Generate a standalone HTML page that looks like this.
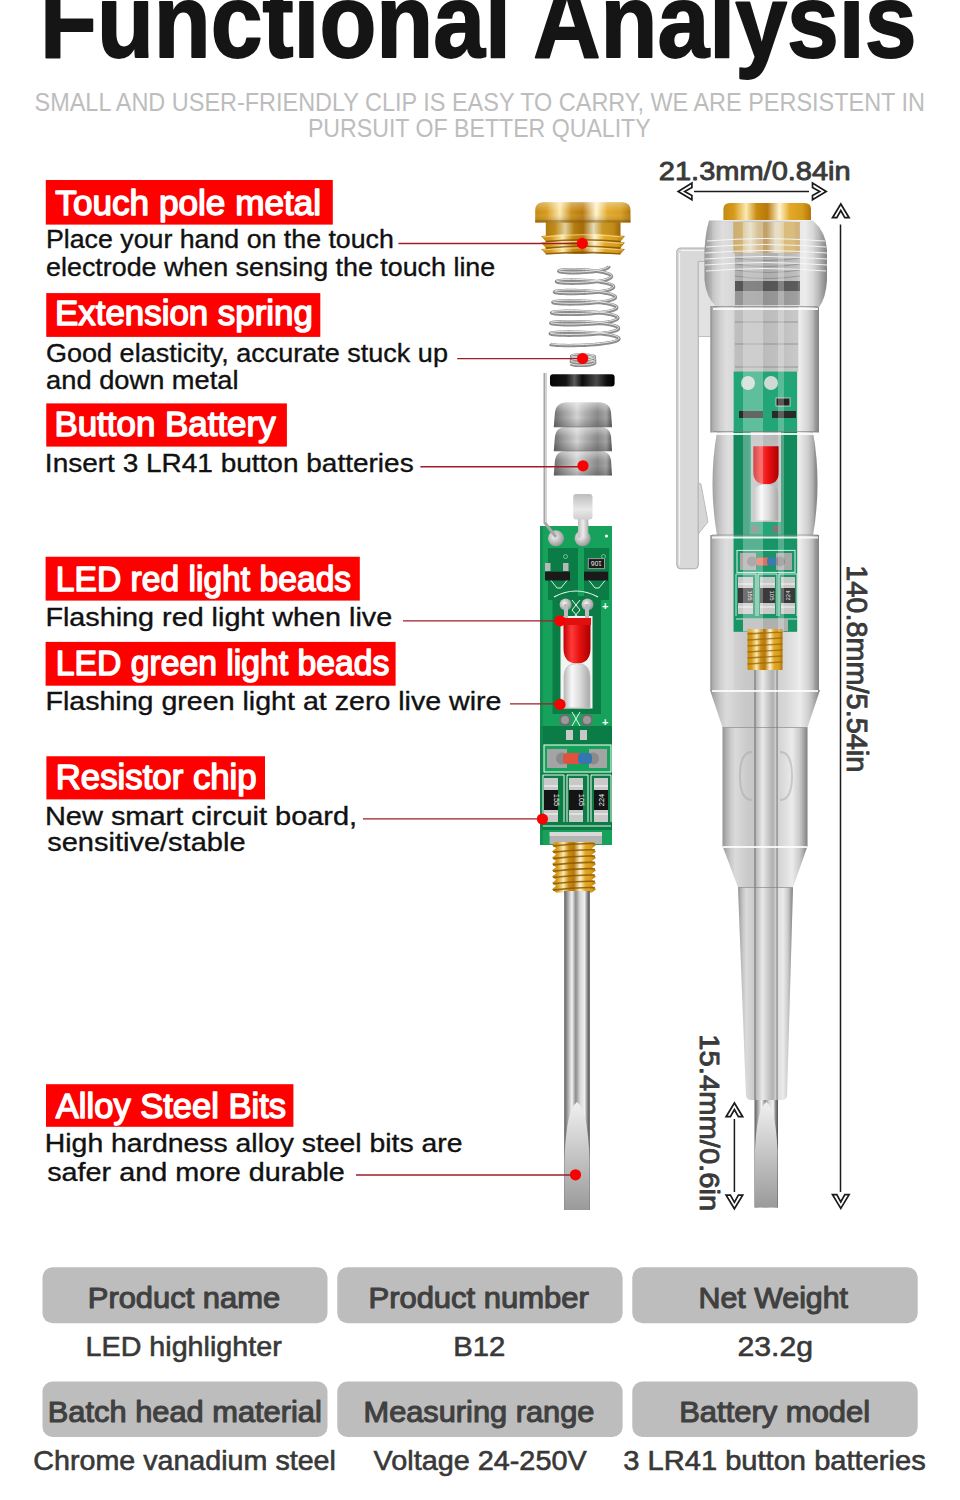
<!DOCTYPE html>
<html><head><meta charset="utf-8"><style>
html,body{margin:0;padding:0;background:#fff;}
body{width:960px;height:1500px;overflow:hidden;}
svg{display:block;}
</style></head><body>
<svg width="960" height="1500" viewBox="0 0 960 1500">
<defs>
  <linearGradient id="gold" x1="0" x2="1" y1="0" y2="0">
    <stop offset="0" stop-color="#c48a12"/>
    <stop offset="0.12" stop-color="#d89a1a"/>
    <stop offset="0.26" stop-color="#fbeab0"/>
    <stop offset="0.38" stop-color="#c98c12"/>
    <stop offset="0.5" stop-color="#b8780a"/>
    <stop offset="0.64" stop-color="#fff4d0"/>
    <stop offset="0.76" stop-color="#e2a826"/>
    <stop offset="0.9" stop-color="#d89c1c"/>
    <stop offset="1" stop-color="#b07408"/>
  </linearGradient>
  <linearGradient id="goldv" x1="0" x2="0" y1="0" y2="1">
    <stop offset="0" stop-color="#fff" stop-opacity="0.35"/>
    <stop offset="0.5" stop-color="#fff" stop-opacity="0"/>
    <stop offset="1" stop-color="#5a3a00" stop-opacity="0.35"/>
  </linearGradient>
  <linearGradient id="steel" x1="0" x2="1" y1="0" y2="0">
    <stop offset="0" stop-color="#5e5e5e"/>
    <stop offset="0.12" stop-color="#9a9a9a"/>
    <stop offset="0.3" stop-color="#f4f4f4"/>
    <stop offset="0.45" stop-color="#8c8c8c"/>
    <stop offset="0.62" stop-color="#d8d8d8"/>
    <stop offset="0.8" stop-color="#efefef"/>
    <stop offset="0.9" stop-color="#8a8a8a"/>
    <stop offset="1" stop-color="#4e4e4e"/>
  </linearGradient>
  <linearGradient id="tipg" x1="0" x2="0" y1="0" y2="1">
    <stop offset="0" stop-color="#f0f0f0"/>
    <stop offset="0.5" stop-color="#c4c4c4"/>
    <stop offset="1" stop-color="#9a9a9a"/>
  </linearGradient>
  <linearGradient id="batt" x1="0" x2="1" y1="0" y2="0">
    <stop offset="0" stop-color="#6e6e6e"/>
    <stop offset="0.15" stop-color="#9a9a9a"/>
    <stop offset="0.4" stop-color="#d4d4d4"/>
    <stop offset="0.55" stop-color="#b0b0b0"/>
    <stop offset="0.75" stop-color="#8a8a8a"/>
    <stop offset="0.9" stop-color="#a4a4a4"/>
    <stop offset="1" stop-color="#5e5e5e"/>
  </linearGradient>
  <linearGradient id="battv" x1="0" x2="0" y1="0" y2="1">
    <stop offset="0" stop-color="#fff" stop-opacity="0.45"/>
    <stop offset="0.3" stop-color="#fff" stop-opacity="0.1"/>
    <stop offset="0.6" stop-color="#000" stop-opacity="0"/>
    <stop offset="1" stop-color="#000" stop-opacity="0.2"/>
  </linearGradient>
  <linearGradient id="tabv" x1="0" x2="0" y1="0" y2="1">
    <stop offset="0" stop-color="#bdbdbd"/>
    <stop offset="0.6" stop-color="#e8e8e8"/>
    <stop offset="1" stop-color="#cfcfcf"/>
  </linearGradient>
  <linearGradient id="body" x1="0" x2="1" y1="0" y2="0">
    <stop offset="0" stop-color="#a4a4a4"/>
    <stop offset="0.05" stop-color="#bcbcbc"/>
    <stop offset="0.15" stop-color="#dadada"/>
    <stop offset="0.3" stop-color="#cacaca"/>
    <stop offset="0.45" stop-color="#c4c4c4"/>
    <stop offset="0.68" stop-color="#d6d6d6"/>
    <stop offset="0.82" stop-color="#ebebeb"/>
    <stop offset="0.93" stop-color="#c2c2c2"/>
    <stop offset="1" stop-color="#969696"/>
  </linearGradient>
  <linearGradient id="rod" x1="0" x2="1" y1="0" y2="0">
    <stop offset="0" stop-color="#505050"/>
    <stop offset="0.08" stop-color="#b8b8b8"/>
    <stop offset="0.35" stop-color="#f2f2f2"/>
    <stop offset="0.6" stop-color="#c8c8c8"/>
    <stop offset="0.8" stop-color="#a8a8a8"/>
    <stop offset="0.93" stop-color="#d0d0d0"/>
    <stop offset="1" stop-color="#4a4a4a"/>
  </linearGradient>
  <linearGradient id="bodyedge" x1="0" x2="1" y1="0" y2="0">
    <stop offset="0" stop-color="#000" stop-opacity="0.1"/>
    <stop offset="0.1" stop-color="#000" stop-opacity="0"/>
    <stop offset="0.9" stop-color="#000" stop-opacity="0"/>
    <stop offset="1" stop-color="#000" stop-opacity="0.14"/>
  </linearGradient>
  <linearGradient id="clipg" x1="0" x2="1" y1="0" y2="0">
    <stop offset="0" stop-color="#9c9c9c"/>
    <stop offset="0.25" stop-color="#e6e6e6"/>
    <stop offset="0.7" stop-color="#d2d2d2"/>
    <stop offset="1" stop-color="#b4b4b4"/>
  </linearGradient>
  <linearGradient id="washer" x1="0" x2="1" y1="0" y2="0">
    <stop offset="0" stop-color="#050505"/>
    <stop offset="0.25" stop-color="#141414"/>
    <stop offset="0.38" stop-color="#5a5a5a"/>
    <stop offset="0.5" stop-color="#0c0c0c"/>
    <stop offset="0.72" stop-color="#4a4a4a"/>
    <stop offset="0.88" stop-color="#0e0e0e"/>
    <stop offset="1" stop-color="#000"/>
  </linearGradient>
  <linearGradient id="redled" x1="0" x2="1" y1="0" y2="0">
    <stop offset="0" stop-color="#c40000"/>
    <stop offset="0.3" stop-color="#ff3a3a"/>
    <stop offset="0.6" stop-color="#e81010"/>
    <stop offset="1" stop-color="#a80000"/>
  </linearGradient>
  <linearGradient id="clearled" x1="0" x2="1" y1="0" y2="0">
    <stop offset="0" stop-color="#b8b8b8"/>
    <stop offset="0.3" stop-color="#f8f8f8"/>
    <stop offset="0.6" stop-color="#dcdcdc"/>
    <stop offset="1" stop-color="#a8a8a8"/>
  </linearGradient>
  <radialGradient id="pad" cx="0.4" cy="0.4" r="0.6">
    <stop offset="0" stop-color="#f4f4f4"/>
    <stop offset="1" stop-color="#9a9a9a"/>
  </radialGradient>
  <linearGradient id="tab" x1="0" x2="1" y1="0" y2="0">
    <stop offset="0" stop-color="#bdbdbd"/>
    <stop offset="0.5" stop-color="#ececec"/>
    <stop offset="1" stop-color="#b0b0b0"/>
  </linearGradient>
</defs>
<g id="exploded">
  <!-- brass cap -->
  <rect x="545.8" y="221" width="74.7" height="33" fill="url(#gold)"/>
  <rect x="545.8" y="221" width="74.7" height="33" fill="#000" opacity="0.1"/>
  <g>
    <path d="M541,236 Q583,231.5 625,236 L620.5,241.5 Q583,238 545.8,241.5 Z" fill="url(#gold)"/>
    <path d="M541,242.5 Q583,238 625,242.5 L620.5,248 Q583,244.5 545.8,248 Z" fill="url(#gold)"/>
    <path d="M541,249 Q583,244.5 625,249 L620.5,254 Q583,250.5 545.8,254 Z" fill="url(#gold)"/>
  </g>
  <g stroke="#7a4c02" stroke-width="1.3" fill="none" opacity="0.75">
    <path d="M545.8,241.5 Q583,238 620.5,241.5"/>
    <path d="M545.8,248 Q583,244.5 620.5,248"/>
    <path d="M545.8,254 Q583,250.5 620.5,254"/>
  </g>
  <g stroke="#fff3c0" stroke-width="1" fill="none" opacity="0.6">
    <path d="M543,237 Q583,232.5 623,237"/>
    <path d="M543,243.5 Q583,239 623,243.5"/>
    <path d="M543,250 Q583,245.5 623,250"/>
  </g>
  <path d="M535.2,222.5 L535.2,210 Q535.2,203 543,202.2 L622.5,202.2 Q630.5,203 630.5,210 L630.5,222.5 Z" fill="url(#gold)"/>
  <path d="M535.2,222.5 L535.2,210 Q535.2,203 543,202.2 L622.5,202.2 Q630.5,203 630.5,210 L630.5,222.5 Z" fill="url(#goldv)"/>
  <rect x="535.2" y="220" width="95.3" height="2.5" fill="#8a5a05" opacity="0.35"/>
  <!-- spring -->
  <g fill="none" stroke-linejoin="round">
    <path d="M609.0,266.0 L608.8,266.9 L607.9,267.7 L606.5,268.5 L604.5,269.3 L602.1,270.0 L599.1,270.6 L595.8,271.2 L592.2,271.7 L588.4,272.1 L584.5,272.4 L580.6,272.6 L576.7,272.7 L573.0,272.8 L569.6,272.7 L566.5,272.6 L563.8,272.4 L561.7,272.1 L560.1,271.9 L559.1,271.5 L558.7,271.2 L559.0,270.9 L559.9,270.5 L561.4,270.3 L563.4,270.0 L566.0,269.8 L569.1,269.7 L572.6,269.6 L576.4,269.7 L580.4,269.8 L584.5,270.0 L588.6,270.3 L592.7,270.7 L596.6,271.2 L600.2,271.8 L603.4,272.4 L606.1,273.1 L608.4,273.9 L610.1,274.7 L611.1,275.5 L611.5,276.4 L611.2,277.3 L610.3,278.1 L608.7,278.9 L606.5,279.7 L603.8,280.4 L600.6,281.0 L596.9,281.6 L593.0,282.1 L588.8,282.5 L584.5,282.8 L580.2,283.0 L576.0,283.1 L571.9,283.2 L568.2,283.1 L564.8,283.0 L561.9,282.8 L559.6,282.5 L557.9,282.3 L556.8,281.9 L556.4,281.6 L556.7,281.3 L557.7,280.9 L559.3,280.7 L561.6,280.4 L564.4,280.2 L567.8,280.1 L571.6,280.0 L575.7,280.1 L580.0,280.2 L584.5,280.4 L589.0,280.7 L593.4,281.1 L597.6,281.6 L601.4,282.2 L604.9,282.8 L607.9,283.5 L610.3,284.3 L612.1,285.1 L613.2,285.9 L613.6,286.8 L613.3,287.7 L612.3,288.5 L610.6,289.3 L608.2,290.1 L605.3,290.8 L601.8,291.4 L597.9,292.0 L593.6,292.5 L589.1,292.9 L584.5,293.2 L579.9,293.4 L575.3,293.5 L571.0,293.6 L567.0,293.5 L563.4,293.4 L560.3,293.2 L557.8,292.9 L556.0,292.7 L554.9,292.3 L554.4,292.0 L554.8,291.7 L555.8,291.3 L557.6,291.1 L560.0,290.8 L563.1,290.6 L566.7,290.5 L570.7,290.4 L575.1,290.5 L579.7,290.6 L584.5,290.8 L589.3,291.1 L593.9,291.5 L598.4,292.0 L602.5,292.6 L606.2,293.2 L609.4,293.9 L611.9,294.7 L613.8,295.5 L615.0,296.3 L615.4,297.2 L615.1,298.1 L614.0,298.9 L612.1,299.7 L609.6,300.5 L606.5,301.2 L602.8,301.8 L598.7,302.4 L594.1,302.9 L589.4,303.3 L584.5,303.6 L579.6,303.8 L574.8,303.9 L570.2,304.0 L566.0,303.9 L562.2,303.8 L559.0,303.6 L556.4,303.3 L554.5,303.1 L553.3,302.7 L552.8,302.4 L553.2,302.1 L554.3,301.7 L556.2,301.5 L558.8,301.2 L562.0,301.0 L565.8,300.9 L570.0,300.8 L574.6,300.9 L579.5,301.0 L584.5,301.2 L589.5,301.5 L594.4,301.9 L599.1,302.4 L603.4,303.0 L607.2,303.6 L610.5,304.3 L613.2,305.1 L615.2,305.9 L616.4,306.7 L616.8,307.6 L616.5,308.5 L615.3,309.3 L613.4,310.1 L610.7,310.9 L607.5,311.6 L603.6,312.2 L599.3,312.8 L594.6,313.3 L589.6,313.7 L584.5,314.0 L579.4,314.2 L574.4,314.3 L569.7,314.4 L565.3,314.3 L561.3,314.2 L558.0,314.0 L555.3,313.7 L553.3,313.5 L552.0,313.1 L551.6,312.8 L552.0,312.5 L553.2,312.1 L555.1,311.9 L557.8,311.6 L561.1,311.4 L565.1,311.3 L569.5,311.2 L574.3,311.3 L579.3,311.4 L584.5,311.6 L589.7,311.9 L594.8,312.3 L599.6,312.8 L604.0,313.4 L608.0,314.0 L611.4,314.7 L614.2,315.5 L616.2,316.3 L617.5,317.1 L617.9,318.0 L617.5,318.9 L616.3,319.7 L614.3,320.5 L611.6,321.3 L608.2,322.0 L604.2,322.6 L599.7,323.2 L594.9,323.7 L589.8,324.1 L584.5,324.4 L579.2,324.6 L574.1,324.7 L569.2,324.8 L564.7,324.7 L560.7,324.6 L557.2,324.4 L554.4,324.1 L552.4,323.9 L551.1,323.5 L550.7,323.2 L551.1,322.9 L552.3,322.5 L554.3,322.3 L557.1,322.0 L560.5,321.8 L564.6,321.7 L569.1,321.6 L574.0,321.7 L579.2,321.8 L584.5,322.0 L589.8,322.3 L595.0,322.7 L599.9,323.2 L604.5,323.8 L608.6,324.4 L612.0,325.1 L614.8,325.9 L616.9,326.7 L618.2,327.5 L618.6,328.4 L618.2,329.3 L617.0,330.1 L614.9,330.9 L612.1,331.7 L608.7,332.4 L604.6,333.0 L600.0,333.6 L595.1,334.1 L589.9,334.5 L584.5,334.8 L579.1,335.0 L573.9,335.1 L568.9,335.2 L564.4,335.1 L560.3,335.0 L556.8,334.8 L553.9,334.5 L551.9,334.3 L550.6,333.9 L550.2,333.6 L550.6,333.3 L551.8,332.9 L553.9,332.7 L556.7,332.4 L560.2,332.2 L564.3,332.1 L568.9,332.0 L573.9,332.1 L579.1,332.2 L584.5,332.4 L589.9,332.7 L595.1,333.1 L600.1,333.6 L604.7,334.2 L608.8,334.8 L612.4,335.5 L615.2,336.3 L617.3,337.1 L618.5,337.9 L619.0,338.8 L618.5,339.7 L617.3,340.5 L615.2,341.3 L612.4,342.1 L608.9,342.8 L604.8,343.4 L600.2,344.0 L595.2,344.5 L589.9,344.9 L584.5,345.2 L579.1,345.4 L573.8,345.5 L568.8,345.6 L564.2,345.5 L560.1,345.4 L556.6,345.2 L553.8,344.9 L551.7,344.7 L550.4,344.3 L550.0,344.0" stroke="#8c8c8c" stroke-width="3.4"/>
    <path d="M609.0,266.0 L608.8,266.9 L607.9,267.7 L606.5,268.5 L604.5,269.3 L602.1,270.0 L599.1,270.6 L595.8,271.2 L592.2,271.7 L588.4,272.1 L584.5,272.4 L580.6,272.6 L576.7,272.7 L573.0,272.8 L569.6,272.7 L566.5,272.6 L563.8,272.4 L561.7,272.1 L560.1,271.9 L559.1,271.5 L558.7,271.2 L559.0,270.9 L559.9,270.5 L561.4,270.3 L563.4,270.0 L566.0,269.8 L569.1,269.7 L572.6,269.6 L576.4,269.7 L580.4,269.8 L584.5,270.0 L588.6,270.3 L592.7,270.7 L596.6,271.2 L600.2,271.8 L603.4,272.4 L606.1,273.1 L608.4,273.9 L610.1,274.7 L611.1,275.5 L611.5,276.4 L611.2,277.3 L610.3,278.1 L608.7,278.9 L606.5,279.7 L603.8,280.4 L600.6,281.0 L596.9,281.6 L593.0,282.1 L588.8,282.5 L584.5,282.8 L580.2,283.0 L576.0,283.1 L571.9,283.2 L568.2,283.1 L564.8,283.0 L561.9,282.8 L559.6,282.5 L557.9,282.3 L556.8,281.9 L556.4,281.6 L556.7,281.3 L557.7,280.9 L559.3,280.7 L561.6,280.4 L564.4,280.2 L567.8,280.1 L571.6,280.0 L575.7,280.1 L580.0,280.2 L584.5,280.4 L589.0,280.7 L593.4,281.1 L597.6,281.6 L601.4,282.2 L604.9,282.8 L607.9,283.5 L610.3,284.3 L612.1,285.1 L613.2,285.9 L613.6,286.8 L613.3,287.7 L612.3,288.5 L610.6,289.3 L608.2,290.1 L605.3,290.8 L601.8,291.4 L597.9,292.0 L593.6,292.5 L589.1,292.9 L584.5,293.2 L579.9,293.4 L575.3,293.5 L571.0,293.6 L567.0,293.5 L563.4,293.4 L560.3,293.2 L557.8,292.9 L556.0,292.7 L554.9,292.3 L554.4,292.0 L554.8,291.7 L555.8,291.3 L557.6,291.1 L560.0,290.8 L563.1,290.6 L566.7,290.5 L570.7,290.4 L575.1,290.5 L579.7,290.6 L584.5,290.8 L589.3,291.1 L593.9,291.5 L598.4,292.0 L602.5,292.6 L606.2,293.2 L609.4,293.9 L611.9,294.7 L613.8,295.5 L615.0,296.3 L615.4,297.2 L615.1,298.1 L614.0,298.9 L612.1,299.7 L609.6,300.5 L606.5,301.2 L602.8,301.8 L598.7,302.4 L594.1,302.9 L589.4,303.3 L584.5,303.6 L579.6,303.8 L574.8,303.9 L570.2,304.0 L566.0,303.9 L562.2,303.8 L559.0,303.6 L556.4,303.3 L554.5,303.1 L553.3,302.7 L552.8,302.4 L553.2,302.1 L554.3,301.7 L556.2,301.5 L558.8,301.2 L562.0,301.0 L565.8,300.9 L570.0,300.8 L574.6,300.9 L579.5,301.0 L584.5,301.2 L589.5,301.5 L594.4,301.9 L599.1,302.4 L603.4,303.0 L607.2,303.6 L610.5,304.3 L613.2,305.1 L615.2,305.9 L616.4,306.7 L616.8,307.6 L616.5,308.5 L615.3,309.3 L613.4,310.1 L610.7,310.9 L607.5,311.6 L603.6,312.2 L599.3,312.8 L594.6,313.3 L589.6,313.7 L584.5,314.0 L579.4,314.2 L574.4,314.3 L569.7,314.4 L565.3,314.3 L561.3,314.2 L558.0,314.0 L555.3,313.7 L553.3,313.5 L552.0,313.1 L551.6,312.8 L552.0,312.5 L553.2,312.1 L555.1,311.9 L557.8,311.6 L561.1,311.4 L565.1,311.3 L569.5,311.2 L574.3,311.3 L579.3,311.4 L584.5,311.6 L589.7,311.9 L594.8,312.3 L599.6,312.8 L604.0,313.4 L608.0,314.0 L611.4,314.7 L614.2,315.5 L616.2,316.3 L617.5,317.1 L617.9,318.0 L617.5,318.9 L616.3,319.7 L614.3,320.5 L611.6,321.3 L608.2,322.0 L604.2,322.6 L599.7,323.2 L594.9,323.7 L589.8,324.1 L584.5,324.4 L579.2,324.6 L574.1,324.7 L569.2,324.8 L564.7,324.7 L560.7,324.6 L557.2,324.4 L554.4,324.1 L552.4,323.9 L551.1,323.5 L550.7,323.2 L551.1,322.9 L552.3,322.5 L554.3,322.3 L557.1,322.0 L560.5,321.8 L564.6,321.7 L569.1,321.6 L574.0,321.7 L579.2,321.8 L584.5,322.0 L589.8,322.3 L595.0,322.7 L599.9,323.2 L604.5,323.8 L608.6,324.4 L612.0,325.1 L614.8,325.9 L616.9,326.7 L618.2,327.5 L618.6,328.4 L618.2,329.3 L617.0,330.1 L614.9,330.9 L612.1,331.7 L608.7,332.4 L604.6,333.0 L600.0,333.6 L595.1,334.1 L589.9,334.5 L584.5,334.8 L579.1,335.0 L573.9,335.1 L568.9,335.2 L564.4,335.1 L560.3,335.0 L556.8,334.8 L553.9,334.5 L551.9,334.3 L550.6,333.9 L550.2,333.6 L550.6,333.3 L551.8,332.9 L553.9,332.7 L556.7,332.4 L560.2,332.2 L564.3,332.1 L568.9,332.0 L573.9,332.1 L579.1,332.2 L584.5,332.4 L589.9,332.7 L595.1,333.1 L600.1,333.6 L604.7,334.2 L608.8,334.8 L612.4,335.5 L615.2,336.3 L617.3,337.1 L618.5,337.9 L619.0,338.8 L618.5,339.7 L617.3,340.5 L615.2,341.3 L612.4,342.1 L608.9,342.8 L604.8,343.4 L600.2,344.0 L595.2,344.5 L589.9,344.9 L584.5,345.2 L579.1,345.4 L573.8,345.5 L568.8,345.6 L564.2,345.5 L560.1,345.4 L556.6,345.2 L553.8,344.9 L551.7,344.7 L550.4,344.3 L550.0,344.0" stroke="#e6e6e6" stroke-width="1" transform="translate(0,-0.7)"/>
    <path d="M594.5,355.0 L594.3,355.5 L593.8,355.9 L592.8,356.4 L591.6,356.8 L590.0,357.1 L588.2,357.4 L586.3,357.6 L584.2,357.8 L582.1,357.9 L580.0,357.9 L578.0,357.8 L576.2,357.7 L574.6,357.5 L573.3,357.2 L572.3,357.0 L571.6,356.7 L571.4,356.3 L571.5,356.0 L572.0,355.7 L572.9,355.4 L574.1,355.1 L575.7,354.9 L577.4,354.8 L579.4,354.7 L581.5,354.7 L583.6,354.8 L585.7,354.9 L587.8,355.1 L589.6,355.4 L591.3,355.7 L592.7,356.1 L593.7,356.5 L594.4,357.0 L594.7,357.4 L594.6,357.9 L594.2,358.4 L593.3,358.8 L592.1,359.2 L590.6,359.6 L588.9,359.9 L586.9,360.1 L584.8,360.3 L582.7,360.4 L580.5,360.5 L578.5,360.4 L576.6,360.3 L574.9,360.1 L573.4,359.9 L572.3,359.6 L571.6,359.3 L571.2,359.0 L571.2,358.7 L571.6,358.4 L572.4,358.1 L573.6,357.8 L575.1,357.6 L576.8,357.4 L578.7,357.3 L580.8,357.3 L583.0,357.3 L585.2,357.4 L587.3,357.6 L589.2,357.8 L591.0,358.2 L592.4,358.5 L593.6,359.0 L594.4,359.4 L594.8,359.9 L594.9,360.3 L594.5,360.8 L593.8,361.3 L592.6,361.7 L591.2,362.1 L589.5,362.4 L587.6,362.7 L585.5,362.9 L583.3,363.0 L581.1,363.0 L579.0,363.0 L577.0,362.9 L575.2,362.7 L573.7,362.5 L572.5,362.3 L571.6,362.0 L571.1,361.7 L571.1,361.3 L571.4,361.0 L572.1,360.7 L573.1,360.4 L574.5,360.2 L576.2,360.0 L578.1,359.9 L580.2,359.8 L582.4,359.9 L584.6,359.9 L586.7,360.1 L588.7,360.3 L590.5,360.6 L592.1,361.0 L593.4,361.4 L594.3,361.8 L594.8,362.3 L595.0,362.8 L594.7,363.3 L594.1,363.7 L593.1,364.1 L591.7,364.5 L590.1,364.9 L588.2,365.2 L586.1,365.4 L583.9,365.5 L581.7,365.6 L579.6,365.6 L577.6,365.5 L575.7,365.4 L574.1,365.2 L572.8,364.9 L571.8,364.6 L571.2,364.3 L571.0,364.0" stroke="#8c8c8c" stroke-width="3"/>
    <path d="M594.5,355.0 L594.3,355.5 L593.8,355.9 L592.8,356.4 L591.6,356.8 L590.0,357.1 L588.2,357.4 L586.3,357.6 L584.2,357.8 L582.1,357.9 L580.0,357.9 L578.0,357.8 L576.2,357.7 L574.6,357.5 L573.3,357.2 L572.3,357.0 L571.6,356.7 L571.4,356.3 L571.5,356.0 L572.0,355.7 L572.9,355.4 L574.1,355.1 L575.7,354.9 L577.4,354.8 L579.4,354.7 L581.5,354.7 L583.6,354.8 L585.7,354.9 L587.8,355.1 L589.6,355.4 L591.3,355.7 L592.7,356.1 L593.7,356.5 L594.4,357.0 L594.7,357.4 L594.6,357.9 L594.2,358.4 L593.3,358.8 L592.1,359.2 L590.6,359.6 L588.9,359.9 L586.9,360.1 L584.8,360.3 L582.7,360.4 L580.5,360.5 L578.5,360.4 L576.6,360.3 L574.9,360.1 L573.4,359.9 L572.3,359.6 L571.6,359.3 L571.2,359.0 L571.2,358.7 L571.6,358.4 L572.4,358.1 L573.6,357.8 L575.1,357.6 L576.8,357.4 L578.7,357.3 L580.8,357.3 L583.0,357.3 L585.2,357.4 L587.3,357.6 L589.2,357.8 L591.0,358.2 L592.4,358.5 L593.6,359.0 L594.4,359.4 L594.8,359.9 L594.9,360.3 L594.5,360.8 L593.8,361.3 L592.6,361.7 L591.2,362.1 L589.5,362.4 L587.6,362.7 L585.5,362.9 L583.3,363.0 L581.1,363.0 L579.0,363.0 L577.0,362.9 L575.2,362.7 L573.7,362.5 L572.5,362.3 L571.6,362.0 L571.1,361.7 L571.1,361.3 L571.4,361.0 L572.1,360.7 L573.1,360.4 L574.5,360.2 L576.2,360.0 L578.1,359.9 L580.2,359.8 L582.4,359.9 L584.6,359.9 L586.7,360.1 L588.7,360.3 L590.5,360.6 L592.1,361.0 L593.4,361.4 L594.3,361.8 L594.8,362.3 L595.0,362.8 L594.7,363.3 L594.1,363.7 L593.1,364.1 L591.7,364.5 L590.1,364.9 L588.2,365.2 L586.1,365.4 L583.9,365.5 L581.7,365.6 L579.6,365.6 L577.6,365.5 L575.7,365.4 L574.1,365.2 L572.8,364.9 L571.8,364.6 L571.2,364.3 L571.0,364.0" stroke="#e6e6e6" stroke-width="0.9" transform="translate(0,-0.6)"/>
  </g>
  <!-- washer -->
  <rect x="550" y="374.2" width="64.6" height="12.2" rx="3" fill="url(#washer)"/>
  <!-- batteries -->
  <g>
    <path d="M553.75,427 L555,412 Q556,403 566,402.5 L600,402.5 Q610,403 611,412 L612,427 Z" fill="url(#batt)"/>
    <path d="M553.75,427 L555,412 Q556,403 566,402.5 L600,402.5 Q610,403 611,412 L612,427 Z" fill="url(#battv)"/>
    <path d="M553.75,451 L555,436 Q556,427.5 566,427 L600,427 Q610,427.5 611,436 L612,451 Z" fill="url(#batt)"/>
    <path d="M553.75,451 L555,436 Q556,427.5 566,427 L600,427 Q610,427.5 611,436 L612,451 Z" fill="url(#battv)"/>
    <path d="M553.75,475.5 L555,460 Q556,451.5 566,451 L600,451 Q610,451.5 611,460 L612,475.5 Z" fill="url(#batt)"/>
    <path d="M553.75,475.5 L555,460 Q556,451.5 566,451 L600,451 Q610,451.5 611,460 L612,475.5 Z" fill="url(#battv)"/>
    <g stroke="#777" stroke-width="1" opacity="0.6">
      <line x1="554" y1="427" x2="612" y2="427"/>
      <line x1="554" y1="451" x2="612" y2="451"/>
    </g>
  </g>
  <!-- wire -->
  
  <!-- metal tab -->
  <rect x="578" y="515" width="10.3" height="24" fill="url(#tab)"/>
  <rect x="573.2" y="494" width="19.3" height="25.6" rx="3" fill="url(#tabv)"/>
  <!-- PCB -->
  <rect x="540" y="526" width="72" height="319" fill="#17a25c"/>
  <g fill="#0c7c47">
    <rect x="548" y="548" width="30" height="52"/>
    <rect x="584" y="548" width="25" height="52"/>
    <rect x="552.5" y="596" width="48.5" height="118"/>
    <rect x="540" y="726" width="72" height="14"/>
    <rect x="540" y="740" width="72" height="90"/>
  </g>
  <rect x="540" y="526" width="3" height="319" fill="#0f8a4e" opacity="0.7"/>
  <rect x="560.5" y="616" width="32" height="92.5" fill="#f2f4f2"/>
  <!-- pads -->
  <circle cx="556" cy="538.3" r="8" fill="url(#pad)"/>
  <path d="M545,373 L545,523 L556,537" fill="none" stroke="#a6a6a6" stroke-width="3"/>
  <path d="M545.6,373 L545.6,522" fill="none" stroke="#e6e6e6" stroke-width="0.8"/>
  <circle cx="582.6" cy="538.3" r="8" fill="url(#pad)"/>
  <rect x="578" y="524" width="10.3" height="14" fill="url(#tab)"/>
  <circle cx="606.5" cy="536" r="1.6" fill="#fff"/>
  <!-- chips -->
  <circle cx="565.5" cy="556.5" r="2" fill="none" stroke="#7fd39c" stroke-width="0.8"/>
  <circle cx="603.5" cy="556.5" r="2" fill="none" stroke="#7fd39c" stroke-width="0.8"/>
  <rect x="545" y="563" width="5.5" height="8" fill="#b8b8b8"/>
  <rect x="563" y="563" width="5.5" height="8" fill="#b8b8b8"/>
  <rect x="545" y="571.7" width="25" height="8.8" fill="#1a1a1a"/>
  <path d="M551,580.5 L557,588 L561,588 L567,580.5" fill="none" stroke="#d8f0de" stroke-width="1"/>
  <rect x="588.3" y="558.6" width="16.2" height="10" fill="#1a1a1a" stroke="#9a9a9a" stroke-width="1"/>
  <text x="596.4" y="566.5" font-family="Liberation Sans, sans-serif" font-size="6.5" fill="#eee" text-anchor="middle" transform="rotate(180 596.4 563.6)">106</text>
  <rect x="584" y="571.7" width="24" height="8.8" fill="#1a1a1a"/>
  <path d="M589,580.5 L595,588 L599,588 L605,580.5" fill="none" stroke="#d8f0de" stroke-width="1"/>
  <!-- LED leads -->
  <path d="M554,597 Q576,585 598,597" fill="none" stroke="#e8f8ec" stroke-width="1.2"/>
  <circle cx="565.6" cy="604.5" r="6" fill="url(#pad)"/>
  <circle cx="587.5" cy="604.5" r="6" fill="url(#pad)"/>
  <rect x="564" y="604" width="4" height="14" fill="#bdbdbd"/>
  <rect x="585" y="604" width="4" height="14" fill="#bdbdbd"/>
  <path d="M572,600 L580,610 L574,617 M580,600 L572,610 L578,617" fill="none" stroke="#eafaee" stroke-width="1"/>
  <circle cx="565" cy="720" r="6" fill="#6e6e6e"/>
  <circle cx="565" cy="720" r="4" fill="#9a9a9a"/>
  <circle cx="587" cy="720" r="6" fill="#6e6e6e"/>
  <circle cx="587" cy="720" r="4" fill="#9a9a9a"/>
  <path d="M572,712 L580,726 M580,712 L572,726" fill="none" stroke="#eafaee" stroke-width="1"/>
  <!-- LEDs -->
  <path d="M563.5,624 L590.5,624 L590.5,648 Q590.5,663.5 577,663.5 Q563.5,663.5 563.5,648 Z" fill="url(#redled)"/>
  <rect x="561" y="618" width="30" height="7" fill="#e01010"/>
  <path d="M564,708 L590,708 L590,677 Q590,663.5 577,663.5 Q564,663.5 564,677 Z" fill="url(#clearled)"/>
  <path d="M564,708 L590,708 L590,677 Q590,663.5 577,663.5 Q564,663.5 564,677 Z" fill="none" stroke="#bdbdbd" stroke-width="0.8"/>
  <g fill="#fff" font-family="Liberation Sans, sans-serif" font-size="11" font-weight="bold">
    <text x="602" y="610">+</text>
    <text x="602" y="726">+</text>
  </g>
  <!-- pads below LED -->
  <rect x="566" y="730" width="7" height="10" fill="#c8c8c8"/>
  <rect x="580" y="730" width="7" height="10" fill="#c8c8c8"/>
  <!-- diode -->
  <rect x="544" y="745" width="67" height="27" fill="#17a25c" stroke="#e8f8ec" stroke-width="1.1"/>
  <rect x="547" y="749" width="20" height="19" fill="#a4a4a4"/>
  <rect x="589" y="749" width="18" height="19" fill="#a4a4a4"/>
  <circle cx="562" cy="758.5" r="6" fill="#8a8a8a"/>
  <circle cx="593" cy="758.5" r="6" fill="#8a8a8a"/>
  <rect x="563" y="753" width="20" height="11" rx="4" fill="#e2503e"/>
  <rect x="578" y="753" width="14" height="11" rx="4" fill="#3576b0"/>
  <!-- resistors -->
  <g fill="none" stroke="#e8f8ec" stroke-width="1">
    <path d="M543,822 L543,775 L564,775 L564,822"/>
    <path d="M567,822 L567,775 L588,775 L588,822"/>
    <path d="M591,822 L591,775 L611,775 L611,822"/>
    <line x1="543" y1="826" x2="611" y2="826"/>
  </g>
  <g>
    <rect x="544" y="778" width="14" height="44" fill="#c9c9c9"/>
    <rect x="544" y="790" width="14" height="20" fill="#141414"/>
    <rect x="569" y="778" width="14" height="44" fill="#c9c9c9"/>
    <rect x="569" y="790" width="14" height="20" fill="#141414"/>
    <rect x="594" y="778" width="14" height="44" fill="#c9c9c9"/>
    <rect x="594" y="790" width="14" height="20" fill="#141414"/>
    <g stroke="#f2f2f2" stroke-width="1.2">
      <line x1="544" y1="786" x2="558" y2="786"/><line x1="544" y1="814" x2="558" y2="814"/>
      <line x1="569" y1="786" x2="583" y2="786"/><line x1="569" y1="814" x2="583" y2="814"/>
      <line x1="594" y1="786" x2="608" y2="786"/><line x1="594" y1="814" x2="608" y2="814"/>
    </g>
    <g font-family="Liberation Sans, sans-serif" font-size="7.5" fill="#f0f0f0" text-anchor="middle">
      <text transform="translate(553.5,800) rotate(90)" y="0">155</text>
      <text transform="translate(578.5,800) rotate(90)" y="0">105</text>
      <text transform="translate(603.5,800) rotate(-90)" y="0">224</text>
    </g>
  </g>
  <!-- connector block -->
  <rect x="549.6" y="832" width="52.4" height="12" fill="#b4b4b4"/>
  <rect x="549.6" y="832" width="52.4" height="4" fill="#d8d8d8"/>
  <!-- brass screw -->
  <path d="M556,842 L592,842 L596,845.1 L592,848.3 L596,851.4 L592,854.6 L596,857.7 L592,860.9 L596,864.0 L592,867.2 L596,870.3 L592,873.5 L596,876.6 L592,879.8 L596,882.9 L592,886.1 L596,889.2 L592,892.4 L556,892.4 L552,889.2 L556,886.1 L552,882.9 L556,879.8 L552,876.6 L556,873.5 L552,870.3 L556,867.2 L552,864.0 L556,860.9 L552,857.7 L556,854.6 L552,851.4 L556,848.3 L552,845.1 L556,842.0 Z" fill="url(#gold)"/>
  <g stroke="#8a5a05" stroke-width="1.6" fill="none" opacity="0.85"><path d="M553,846.0 Q574,843.0 595,843.5" /><path d="M553,852.3 Q574,849.3 595,849.8" /><path d="M553,858.6 Q574,855.6 595,856.1" /><path d="M553,864.9 Q574,861.9 595,862.4" /><path d="M553,871.2 Q574,868.2 595,868.7" /><path d="M553,877.5 Q574,874.5 595,875.0" /><path d="M553,883.8 Q574,880.8 595,881.3" /><path d="M553,890.1 Q574,887.1 595,887.6" /></g>
  <!-- shaft -->
  <rect x="564.2" y="891" width="25.6" height="319" fill="url(#steel)"/>
  <path d="M564.5,1210 L564.5,1160 Q566,1110 577,1102 Q588,1110 589.5,1160 L589.5,1210 Z" fill="url(#tipg)"/>
</g>
<g id="assembled">
  <!-- clip -->
  <path d="M676.8,252 Q676.8,248 681,248 L716,248 L716,261.5 L698.3,261.5 L698.3,565 Q698.3,568.8 694.5,568.8 L680.6,568.8 Q676.8,568.8 676.8,565 Z" fill="#d9d9d9" stroke="#a4a4a4" stroke-width="0.9"/>
  <path d="M679.5,253 L679.5,565" stroke="#f4f4f4" stroke-width="1.2"/>
  <path d="M681,250.5 L714,250.5" stroke="#f4f4f4" stroke-width="1"/>
  <rect x="698.3" y="261.5" width="17.7" height="75" fill="#e2e2e2" stroke="#b4b4b4" stroke-width="0.8"/>
  <path d="M698.3,482.6 L701,484 L708,522 L698.3,534 Z" fill="#d6d6d6" stroke="#b0b0b0" stroke-width="0.8"/>
  <!-- bit -->
  <rect x="754.5" y="1098" width="23.5" height="109.5" fill="url(#steel)"/>
  <path d="M755,1207.5 L755,1150 Q757,1108 766.3,1102 Q775.5,1108 777.5,1150 L777.5,1207.5 Z" fill="url(#tipg)"/>
  <!-- tip body (taper) -->
  <path d="M738,887.5 L793,887.5 L787,1096 Q786,1100 782,1100 L751,1100 Q747,1100 746,1096 Z" fill="url(#body)"/>
  <path d="M738,887.5 L793,887.5 L787,1096 Q786,1100 782,1100 L751,1100 Q747,1100 746,1096 Z" fill="url(#bodyedge)"/>
  <!-- cone2 -->
  <path d="M722.5,846 L807.5,846 L793,887.5 L738,887.5 Z" fill="url(#body)"/>
  <path d="M722.5,846 L807.5,846 L793,887.5 L738,887.5 Z" fill="url(#bodyedge)"/>
  <!-- cylinder -->
  <rect x="722.5" y="727.5" width="85" height="118.5" fill="url(#body)"/>
  <rect x="722.5" y="727.5" width="85" height="118.5" fill="url(#bodyedge)"/>
  <g fill="none" stroke="#a8a8a8" stroke-width="2" opacity="0.5">
    <path d="M752,752 Q740,752 740,776 Q740,800 752,800"/>
    <path d="M780,752 Q792,752 792,776 Q792,800 780,800"/>
  </g>
  <!-- cone1 -->
  <path d="M710,690 L820,690 L807.5,727.5 L722.5,727.5 Z" fill="url(#body)"/>
  <path d="M710,690 L820,690 L807.5,727.5 L722.5,727.5 Z" fill="url(#bodyedge)"/>
  <!-- segment 3 -->
  <rect x="710.3" y="535" width="108.7" height="155" fill="url(#body)"/>
  <rect x="710.3" y="535" width="108.7" height="155" fill="url(#bodyedge)"/>
  <!-- segment 2 bulge -->
  <path d="M717,432 L813,432 Q822,483 813,535.5 L717,535.5 Q708,483 717,432 Z" fill="url(#body)"/>
  <path d="M717,432 L813,432 Q822,483 813,535.5 L717,535.5 Q708,483 717,432 Z" fill="url(#bodyedge)"/>
  <!-- tube 1 -->
  <rect x="710.3" y="306" width="108.7" height="126.5" fill="url(#body)"/>
  <rect x="710.3" y="306" width="108.7" height="126.5" fill="url(#bodyedge)"/>
  <!-- head -->
  <path d="M709,220.5 Q705.5,232 704.5,250 L704.5,280 Q706,298 717,307.3 L819,307.3 Q826,298 827,280 L827,250 Q826,232 813,220.5 Z" fill="url(#body)"/>
  <path d="M709,220.5 Q705.5,232 704.5,250 L704.5,280 Q706,298 717,307.3 L819,307.3 Q826,298 827,280 L827,250 Q826,232 813,220.5 Z" fill="url(#bodyedge)"/>
  <!-- brass top -->
  <path d="M723.4,220 L723.4,209 Q723.4,203 730,203 L804.5,203 Q811,203 811,209 L811,220 Z" fill="url(#gold)"/>
  <!-- head core -->
  <rect x="733" y="222" width="67" height="31" fill="url(#gold)" opacity="0.5"/>
  <rect x="735" y="253" width="65" height="52" fill="#707070" opacity="0.3"/>
  <rect x="735" y="281" width="65" height="10" fill="#1a1a1a" opacity="0.6"/>
  <rect x="735" y="291" width="65" height="14" fill="#555" opacity="0.3"/>
  <g fill="none" stroke="#f8f8f8" stroke-width="1.1" opacity="0.9">
    <path d="M707,241 Q765,236 825,241"/>
    <path d="M706,247 Q765,242 826,247"/>
    <path d="M705,253 Q765,248 827,253"/>
    <path d="M705,259 Q765,254 827,259"/>
    <path d="M705,265 Q765,260 827,265"/>
    <path d="M706,271 Q765,266 826,271"/>
  </g>
  <g fill="none" stroke="#555" stroke-width="1" opacity="0.35">
    <path d="M735,258 Q767,263 800,258"/>
    <path d="M735,264 Q767,269 800,264"/>
    <path d="M735,270 Q767,275 800,270"/>
    <path d="M735,276 Q767,281 800,276"/>
  </g>
  <!-- tube1 core: batteries -->
  <rect x="734.4" y="306" width="64" height="65.5" fill="#b4b4b4" opacity="0.6"/>
  <g stroke="#8a8a8a" stroke-width="1.2" opacity="0.8">
    <line x1="735" y1="322" x2="798" y2="322"/>
    <line x1="735" y1="344" x2="798" y2="344"/>
    <line x1="735" y1="367" x2="798" y2="367"/>
  </g>
  <!-- PCB inside -->
  <rect x="733.6" y="371.5" width="63.5" height="260" fill="#22a677"/>
  <g fill="#138a5e">
    <rect x="733.6" y="432" width="16" height="103"/>
    <rect x="781" y="432" width="16" height="103"/>
  </g>
  <rect x="751" y="432" width="30" height="90" fill="#b9bcbb"/>
  <!-- tube1 pcb comps -->
  <circle cx="748" cy="383" r="7" fill="#e0e0e0" opacity="0.9"/>
  <circle cx="771" cy="383" r="7" fill="#e0e0e0" opacity="0.9"/>
  <rect x="739" y="411" width="24" height="7" fill="#2a2a2a"/>
  <rect x="772" y="411" width="24" height="7" fill="#2a2a2a"/>
  <rect x="776" y="398" width="14" height="8" fill="#222" stroke="#ddd" stroke-width="0.8"/>
  <!-- LEDs -->
  <circle cx="757" cy="437" r="5" fill="#b8b8b8"/>
  <circle cx="776" cy="437" r="5" fill="#b8b8b8"/>
  <path d="M753.3,446.25 L778.9,446.25 L778.9,472 Q778.9,484.2 766.1,484.2 Q753.3,484.2 753.3,472 Z" fill="url(#redled)"/>
  <path d="M754,520.6 L778.2,520.6 L778.2,494 Q778.2,484.2 766.1,484.2 Q754,484.2 754,494 Z" fill="url(#clearled)"/>
  <circle cx="755" cy="529" r="4" fill="#7a7a7a"/>
  <circle cx="776" cy="529" r="4" fill="#7a7a7a"/>
  <!-- segment 3 comps -->
  <rect x="733.6" y="536" width="63.5" height="96" fill="#128a5e" opacity="0.6"/>
  <rect x="737" y="550.4" width="58" height="22" fill="none" stroke="#d8efe4" stroke-width="1"/>
  <rect x="740" y="553" width="16" height="17" fill="#a8a8a8"/>
  <rect x="776" y="553" width="16" height="17" fill="#a8a8a8"/>
  <circle cx="752" cy="561.5" r="5" fill="#8a8a8a"/>
  <circle cx="780" cy="561.5" r="5" fill="#8a8a8a"/>
  <rect x="756" y="557.5" width="14" height="8" rx="3" fill="#e07060"/>
  <rect x="767" y="557.5" width="9" height="8" rx="3" fill="#3a7ab0"/>
  <g fill="none" stroke="#d8efe4" stroke-width="0.9">
    <path d="M736,616 L736,574 L756,574 L756,616"/>
    <path d="M758,616 L758,574 L777,574 L777,616"/>
    <path d="M779,616 L779,574 L797,574 L797,616"/>
    <line x1="736" y1="619" x2="797" y2="619"/>
  </g>
  <g>
    <rect x="738" y="577" width="15" height="37" fill="#c9c9c9"/>
    <rect x="738" y="588" width="15" height="15" fill="#3a3a3a"/>
    <rect x="760" y="577" width="15" height="37" fill="#c9c9c9"/>
    <rect x="760" y="588" width="15" height="15" fill="#3a3a3a"/>
    <rect x="781" y="577" width="14" height="37" fill="#c9c9c9"/>
    <rect x="781" y="588" width="14" height="15" fill="#3a3a3a"/>
    <g stroke="#f4f4f4" stroke-width="1">
      <line x1="738" y1="584" x2="753" y2="584"/><line x1="738" y1="607" x2="753" y2="607"/>
      <line x1="760" y1="584" x2="775" y2="584"/><line x1="760" y1="607" x2="775" y2="607"/>
      <line x1="781" y1="584" x2="795" y2="584"/><line x1="781" y1="607" x2="795" y2="607"/>
    </g>
    <g font-family="Liberation Sans, sans-serif" font-size="6" fill="#e8e8e8" text-anchor="middle">
      <text transform="translate(747.5,595.5) rotate(90)" y="0">155</text>
      <text transform="translate(769.5,595.5) rotate(90)" y="0">105</text>
      <text transform="translate(790,595.5) rotate(-90)" y="0">224</text>
    </g>
  </g>
  <rect x="743" y="619" width="45" height="12" fill="#b0b0b0"/>
  <!-- brass screw -->
  <rect x="747.5" y="629" width="35" height="41" fill="url(#gold)"/>
  <g stroke="#9a6a10" stroke-width="1.4" opacity="0.8">
    <line x1="747.5" y1="634" x2="782.5" y2="632"/>
    <line x1="747.5" y1="640" x2="782.5" y2="638"/>
    <line x1="747.5" y1="646" x2="782.5" y2="644"/>
    <line x1="747.5" y1="652" x2="782.5" y2="650"/>
    <line x1="747.5" y1="658" x2="782.5" y2="656"/>
    <line x1="747.5" y1="664" x2="782.5" y2="662"/>
  </g>
  <!-- central rod -->
  <rect x="754.5" y="670" width="23" height="430" fill="url(#rod)" opacity="0.8"/>
  <!-- glass stripes over head/tube -->
  <rect x="743" y="222" width="20" height="410" fill="#ffffff" opacity="0.28"/>
  <rect x="778" y="222" width="6" height="410" fill="#ffffff" opacity="0.25"/>
  <rect x="712" y="222" width="22" height="470" fill="#ffffff" opacity="0.12"/>
  <rect x="798" y="222" width="16" height="470" fill="#ffffff" opacity="0.12"/>
  <!-- joints -->
  <g stroke="#ffffff" stroke-width="2" opacity="0.85">
    <line x1="713" y1="309" x2="818" y2="309"/>
    <line x1="713" y1="434" x2="817" y2="434"/>
    <line x1="712" y1="537.5" x2="818" y2="537.5"/>
    <line x1="712" y1="691" x2="818" y2="691"/>
    <line x1="723" y1="847" x2="807" y2="847"/>
  </g>
  <g stroke="#7a7a7a" stroke-width="1.2" opacity="0.6">
    <line x1="713" y1="306.5" x2="818" y2="306.5"/>
    <line x1="713" y1="431.5" x2="817" y2="431.5"/>
    <line x1="712" y1="535" x2="818" y2="535"/>
    <line x1="722.5" y1="727.5" x2="807.5" y2="727.5"/>
    <line x1="738" y1="887.5" x2="793" y2="887.5"/>
  </g>
</g>
<g id="dims" fill="#fff" stroke="#1a1a1a" stroke-width="1.7" stroke-linejoin="miter">
  <line x1="694" y1="191.4" x2="809" y2="191.4" stroke-width="1.5"/>
  <path d="M678.2,191.4 L691.9,199.7 L691.9,195.4 L684.7,191.4 L691.9,187.4 L691.9,183.1 Z"/>
  <path d="M826.2,191.4 L812.5,183.1 L812.5,187.4 L819.7,191.4 L812.5,195.4 L812.5,199.7 Z"/>
  <line x1="840.5" y1="224.6" x2="840.5" y2="1192" stroke-width="1.5"/>
  <path d="M840.8,204.0 L832.5,217.7 L836.8,217.7 L840.8,210.5 L844.8,217.7 L849.1,217.7 Z"/>
  <path d="M840.8,1208.4 L849.1,1194.7 L844.8,1194.7 L840.8,1201.9 L836.8,1194.7 L832.5,1194.7 Z"/>
  <line x1="734.4" y1="1119" x2="734.4" y2="1192" stroke-width="1.5"/>
  <path d="M734.4,1103.0 L726.1,1116.7 L730.4,1116.7 L734.4,1109.5 L738.4,1116.7 L742.7,1116.7 Z"/>
  <path d="M734.4,1208.8 L742.7,1195.1 L738.4,1195.1 L734.4,1202.3 L730.4,1195.1 L726.1,1195.1 Z"/>
</g>

<g font-family="Liberation Sans, sans-serif">
<rect x="45.8" y="180" width="287.00" height="44.60" fill="#fe0000"/>
<rect x="46.25" y="293.1" width="274.05" height="43.80" fill="#fe0000"/>
<rect x="46.25" y="403.4" width="240.65" height="43.20" fill="#fe0000"/>
<rect x="45.6" y="556.75" width="314.20" height="43.85" fill="#fe0000"/>
<rect x="45.6" y="641.9" width="350.00" height="43.80" fill="#fe0000"/>
<rect x="46.4" y="756.25" width="218.60" height="43.15" fill="#fe0000"/>
<rect x="46" y="1084.2" width="247.40" height="42.60" fill="#fe0000"/>
<rect x="42.5" y="1267.3" width="285.00" height="56.00" rx="10" fill="#bdbdbd"/>
<rect x="337.3" y="1267.3" width="285.30" height="56.00" rx="10" fill="#bdbdbd"/>
<rect x="632.3" y="1267.3" width="285.40" height="56.00" rx="10" fill="#bdbdbd"/>
<rect x="42.5" y="1381.5" width="285.00" height="55.50" rx="10" fill="#bdbdbd"/>
<rect x="337.3" y="1381.5" width="285.30" height="55.50" rx="10" fill="#bdbdbd"/>
<rect x="632.3" y="1381.5" width="285.40" height="55.50" rx="10" fill="#bdbdbd"/>
<text x="39.99" y="57.10" font-size="103" font-weight="bold" fill="#151515" stroke="#151515" stroke-width="1.8" stroke-linejoin="round" textLength="876.56" lengthAdjust="spacingAndGlyphs">Functional Analysis</text>
<text x="34.57" y="111.00" font-size="25" font-weight="normal" fill="#bdbdbd" textLength="890.41" lengthAdjust="spacingAndGlyphs">SMALL AND USER-FRIENDLY CLIP IS EASY TO CARRY, WE ARE PERSISTENT IN</text>
<text x="307.95" y="137.40" font-size="25" font-weight="normal" fill="#bdbdbd" textLength="342.75" lengthAdjust="spacingAndGlyphs">PURSUIT OF BETTER QUALITY</text>
<text x="55.35" y="214.65" font-size="35.5" font-weight="normal" fill="#ffffff" stroke="#ffffff" stroke-width="1.5" stroke-linejoin="round" textLength="265.77" lengthAdjust="spacingAndGlyphs">Touch pole metal</text>
<text x="55.04" y="324.55" font-size="35.5" font-weight="normal" fill="#ffffff" stroke="#ffffff" stroke-width="1.5" stroke-linejoin="round" textLength="257.83" lengthAdjust="spacingAndGlyphs">Extension spring</text>
<text x="54.38" y="435.85" font-size="35.5" font-weight="normal" fill="#ffffff" stroke="#ffffff" stroke-width="1.5" stroke-linejoin="round" textLength="221.22" lengthAdjust="spacingAndGlyphs">Button Battery</text>
<text x="55.76" y="590.50" font-size="35.5" font-weight="normal" fill="#ffffff" stroke="#ffffff" stroke-width="1.5" stroke-linejoin="round" textLength="295.41" lengthAdjust="spacingAndGlyphs">LED red light beads</text>
<text x="55.75" y="674.85" font-size="35.5" font-weight="normal" fill="#ffffff" stroke="#ffffff" stroke-width="1.5" stroke-linejoin="round" textLength="333.71" lengthAdjust="spacingAndGlyphs">LED green light beads</text>
<text x="55.69" y="789.25" font-size="35.5" font-weight="normal" fill="#ffffff" stroke="#ffffff" stroke-width="1.5" stroke-linejoin="round" textLength="200.99" lengthAdjust="spacingAndGlyphs">Resistor chip</text>
<text x="55.85" y="1117.75" font-size="35.5" font-weight="normal" fill="#ffffff" stroke="#ffffff" stroke-width="1.5" stroke-linejoin="round" textLength="230.23" lengthAdjust="spacingAndGlyphs">Alloy Steel Bits</text>
<text x="45.98" y="247.82" font-size="25.5" font-weight="normal" fill="#111111" stroke="#111111" stroke-width="0.35" stroke-linejoin="round" textLength="347.89" lengthAdjust="spacingAndGlyphs">Place your hand on the touch</text>
<text x="46.12" y="275.93" font-size="25.5" font-weight="normal" fill="#111111" stroke="#111111" stroke-width="0.35" stroke-linejoin="round" textLength="449.09" lengthAdjust="spacingAndGlyphs">electrode when sensing the touch line</text>
<text x="46.02" y="361.72" font-size="25.5" font-weight="normal" fill="#111111" stroke="#111111" stroke-width="0.35" stroke-linejoin="round" textLength="401.90" lengthAdjust="spacingAndGlyphs">Good elasticity, accurate stuck up</text>
<text x="46.11" y="388.57" font-size="25.5" font-weight="normal" fill="#111111" stroke="#111111" stroke-width="0.35" stroke-linejoin="round" textLength="192.40" lengthAdjust="spacingAndGlyphs">and down metal</text>
<text x="44.88" y="472.02" font-size="25.5" font-weight="normal" fill="#111111" stroke="#111111" stroke-width="0.35" stroke-linejoin="round" textLength="368.77" lengthAdjust="spacingAndGlyphs">Insert 3 LR41 button batteries</text>
<text x="45.42" y="626.12" font-size="25.5" font-weight="normal" fill="#111111" stroke="#111111" stroke-width="0.35" stroke-linejoin="round" textLength="346.81" lengthAdjust="spacingAndGlyphs">Flashing red light when live</text>
<text x="45.43" y="710.23" font-size="25.5" font-weight="normal" fill="#111111" stroke="#111111" stroke-width="0.35" stroke-linejoin="round" textLength="456.10" lengthAdjust="spacingAndGlyphs">Flashing green light at zero live wire</text>
<text x="44.90" y="824.73" font-size="25.5" font-weight="normal" fill="#111111" stroke="#111111" stroke-width="0.35" stroke-linejoin="round" textLength="312.29" lengthAdjust="spacingAndGlyphs">New smart circuit board,</text>
<text x="47.17" y="850.93" font-size="25.5" font-weight="normal" fill="#111111" stroke="#111111" stroke-width="0.35" stroke-linejoin="round" textLength="198.36" lengthAdjust="spacingAndGlyphs">sensitive/stable</text>
<text x="44.85" y="1151.83" font-size="25.5" font-weight="normal" fill="#111111" stroke="#111111" stroke-width="0.35" stroke-linejoin="round" textLength="417.68" lengthAdjust="spacingAndGlyphs">High hardness alloy steel bits are</text>
<text x="47.17" y="1181.12" font-size="25.5" font-weight="normal" fill="#111111" stroke="#111111" stroke-width="0.35" stroke-linejoin="round" textLength="297.66" lengthAdjust="spacingAndGlyphs">safer and more durable</text>
<text x="658.83" y="179.55" font-size="26" font-weight="normal" fill="#3a3a3a" stroke="#3a3a3a" stroke-width="0.9" stroke-linejoin="round" textLength="191.84" lengthAdjust="spacingAndGlyphs">21.3mm/0.84in</text>
<text x="87.79" y="1307.75" font-size="30" font-weight="normal" fill="#404040" stroke="#404040" stroke-width="1.1" stroke-linejoin="round" textLength="192.37" lengthAdjust="spacingAndGlyphs">Product name</text>
<text x="368.49" y="1307.75" font-size="30" font-weight="normal" fill="#404040" stroke="#404040" stroke-width="1.1" stroke-linejoin="round" textLength="220.25" lengthAdjust="spacingAndGlyphs">Product number</text>
<text x="698.53" y="1307.75" font-size="30" font-weight="normal" fill="#404040" stroke="#404040" stroke-width="1.1" stroke-linejoin="round" textLength="149.55" lengthAdjust="spacingAndGlyphs">Net Weight</text>
<text x="47.80" y="1421.75" font-size="30" font-weight="normal" fill="#404040" stroke="#404040" stroke-width="1.1" stroke-linejoin="round" textLength="274.06" lengthAdjust="spacingAndGlyphs">Batch head material</text>
<text x="363.50" y="1421.75" font-size="30" font-weight="normal" fill="#404040" stroke="#404040" stroke-width="1.1" stroke-linejoin="round" textLength="230.95" lengthAdjust="spacingAndGlyphs">Measuring range</text>
<text x="679.19" y="1421.65" font-size="30" font-weight="normal" fill="#404040" stroke="#404040" stroke-width="1.1" stroke-linejoin="round" textLength="190.98" lengthAdjust="spacingAndGlyphs">Battery model</text>
<text x="85.55" y="1356.40" font-size="28" font-weight="normal" fill="#383838" stroke="#383838" stroke-width="0.6" stroke-linejoin="round" textLength="196.18" lengthAdjust="spacingAndGlyphs">LED highlighter</text>
<text x="453.21" y="1356.40" font-size="28" font-weight="normal" fill="#383838" stroke="#383838" stroke-width="0.6" stroke-linejoin="round" textLength="52.09" lengthAdjust="spacingAndGlyphs">B12</text>
<text x="737.52" y="1356.40" font-size="28" font-weight="normal" fill="#383838" stroke="#383838" stroke-width="0.6" stroke-linejoin="round" textLength="75.57" lengthAdjust="spacingAndGlyphs">23.2g</text>
<text x="33.28" y="1470.40" font-size="28" font-weight="normal" fill="#383838" stroke="#383838" stroke-width="0.6" stroke-linejoin="round" textLength="302.67" lengthAdjust="spacingAndGlyphs">Chrome vanadium steel</text>
<text x="373.60" y="1470.40" font-size="28" font-weight="normal" fill="#383838" stroke="#383838" stroke-width="0.6" stroke-linejoin="round" textLength="213.07" lengthAdjust="spacingAndGlyphs">Voltage 24-250V</text>
<text x="623.26" y="1470.20" font-size="28" font-weight="normal" fill="#383838" stroke="#383838" stroke-width="0.6" stroke-linejoin="round" textLength="302.48" lengthAdjust="spacingAndGlyphs">3 LR41 button batteries</text>
</g>
<line x1="398.4" y1="243.5" x2="582.3" y2="243.5" stroke="#a01c26" stroke-width="1.4"/>
<circle cx="582.3" cy="243.4" r="5.6" fill="#fa0000"/>
<line x1="457.2" y1="358.6" x2="582.6" y2="358.6" stroke="#a01c26" stroke-width="1.4"/>
<circle cx="582.6" cy="358.5" r="5.6" fill="#fa0000"/>
<line x1="420.4" y1="466.8" x2="583" y2="466.8" stroke="#a01c26" stroke-width="1.4"/>
<circle cx="583" cy="465.8" r="5.6" fill="#fa0000"/>
<line x1="403" y1="620.9" x2="560" y2="620.9" stroke="#a01c26" stroke-width="1.4"/>
<circle cx="560" cy="620.8" r="5.6" fill="#fa0000"/>
<line x1="510" y1="703.9" x2="560" y2="703.9" stroke="#a01c26" stroke-width="1.4"/>
<circle cx="560" cy="704.4" r="5.6" fill="#fa0000"/>
<line x1="363" y1="818.9" x2="542.4" y2="818.9" stroke="#a01c26" stroke-width="1.4"/>
<circle cx="542.4" cy="819" r="5.6" fill="#fa0000"/>
<line x1="356" y1="1175" x2="575.5" y2="1175" stroke="#a01c26" stroke-width="1.4"/>
<circle cx="575.5" cy="1174.8" r="5.6" fill="#fa0000"/>
<g transform="translate(846.85,0) rotate(90)"><text x="565.26" y="0" font-family="Liberation Sans, sans-serif" font-size="29" font-weight="normal" fill="#3a3a3a" stroke="#3a3a3a" stroke-width="0.9" stroke-linejoin="round" textLength="207.01" lengthAdjust="spacingAndGlyphs">140.8mm/5.54in</text></g>
<g transform="translate(700.1500000000001,0) rotate(90)"><text x="1034.37" y="0" font-family="Liberation Sans, sans-serif" font-size="28" font-weight="normal" fill="#3a3a3a" stroke="#3a3a3a" stroke-width="0.9" stroke-linejoin="round" textLength="176.82" lengthAdjust="spacingAndGlyphs">15.4mm/0.6in</text></g>
</svg>
</body></html>
